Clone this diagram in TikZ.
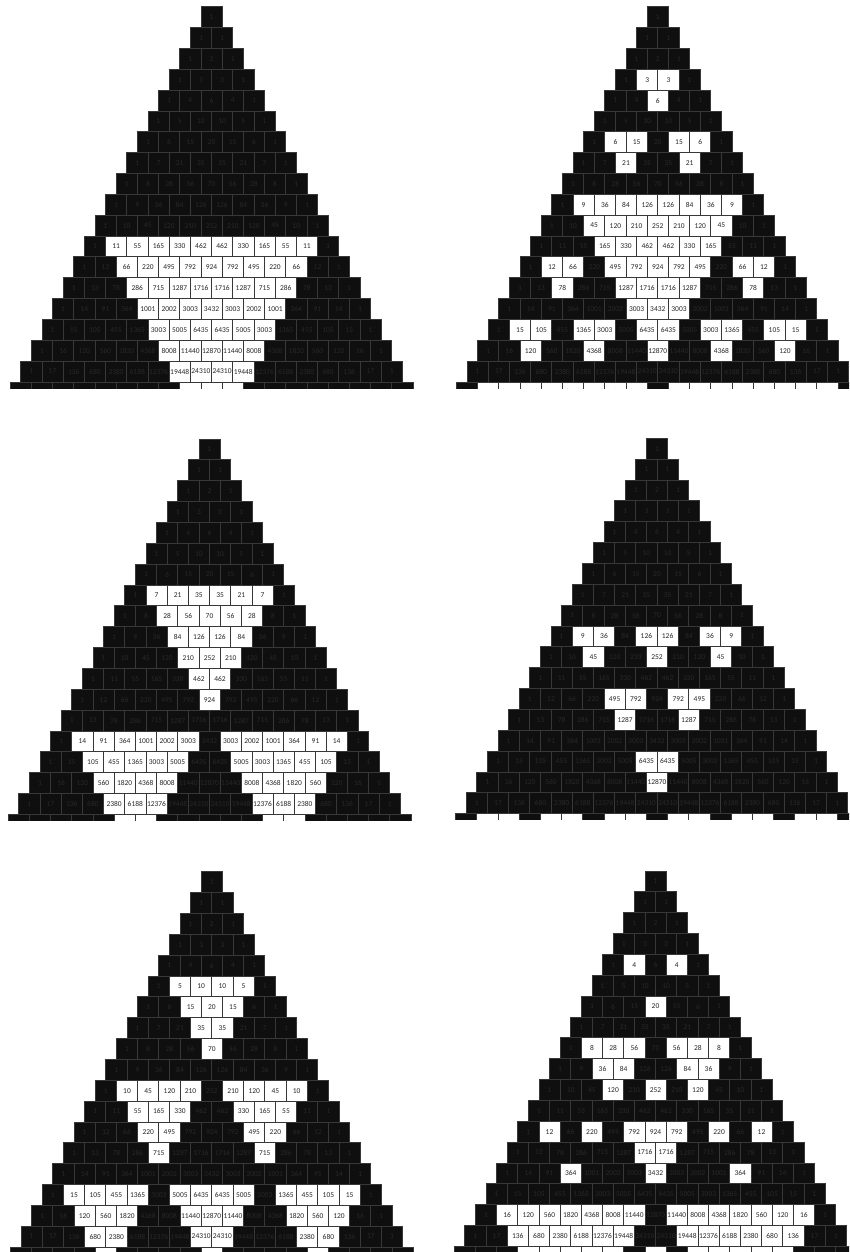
\documentclass[tikz,border=0pt]{standalone}
\usepackage{fontspec}
\setmainfont{Carlito}
\definecolor{cellfill}{HTML}{0F0F0F}
\definecolor{cellline}{HTML}{383838}
\definecolor{celltext}{HTML}{282828}
\tikzset{
  cell/.style={rectangle,inner sep=0pt,minimum width=15.9pt,minimum height=15.64pt,
    line width=0.6pt,draw=cellline,font=\fontsize{5.6}{6}\selectfont},
  oddcell/.style={cell,fill=cellfill,text=celltext},
  hitcell/.style={cell,fill=white,text=black!85},
}
\newcommand\pascalpanel[6]{%
  \begin{scope}
  \clip (#5,#3-3) rectangle (#6,{#3+18*20.85+6.2});
  \foreach \n in {0,...,18}{
    \xdef\binval{1}
    \foreach \k in {0,...,\n}{
      \ifnum\numexpr\binval-#4*((2*\binval-#4+1)/(2*#4))\relax=0
        \node[hitcell] (#1-\n-\k) at ({#2+(\k-\n/2)*21.2},{#3+(\n+0.5)*20.85}) {\binval};
      \else
        \node[oddcell] (#1-\n-\k) at ({#2+(\k-\n/2)*21.2},{#3+(\n+0.5)*20.85}) {\binval};
      \fi
      \xdef\binval{\the\numexpr\binval*(\n-\k)/(\k+1)\relax}
    }
  }
  \end{scope}}
\begin{document}
\begin{tikzpicture}[x=0.75pt,y=-0.75pt]
\fill[white] (0,0) rectangle (849,1252);
\useasboundingbox (0,0) rectangle (849,1252);
\pascalpanel{eleven}{211.5}{6.7}{11}{0}{430}
\pascalpanel{three}{657.8}{6.7}{3}{430}{849}
\pascalpanel{seven}{209.5}{439}{7}{0}{430}
\pascalpanel{nine}{657}{438.3}{9}{430}{849}
\pascalpanel{five}{211.8}{871.7}{5}{0}{430}
\pascalpanel{four}{655.5}{871}{4}{430}{849}
\end{tikzpicture}
\end{document}
